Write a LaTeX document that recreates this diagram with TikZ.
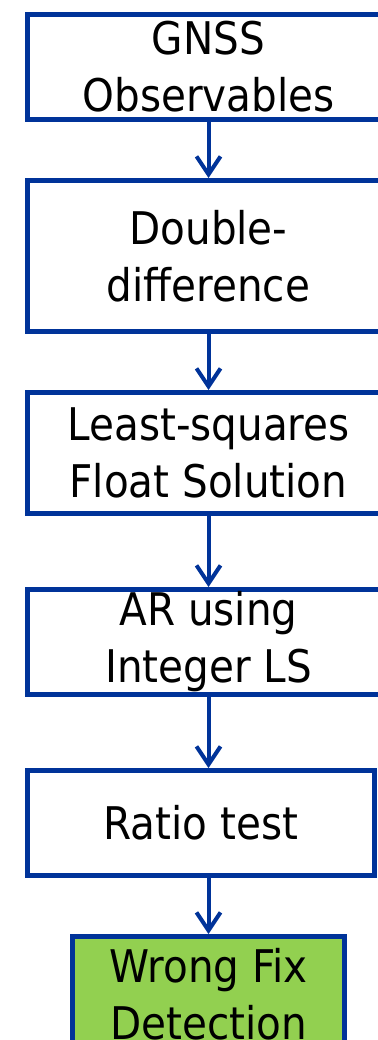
\documentclass[tikz,border=0pt]{standalone}
\usepackage{fontspec}
\setmainfont{DejaVu Sans Condensed}
\usepackage{tikz}
\usetikzlibrary{arrows.meta, positioning}
\definecolor{flowblue}{RGB}{0,51,153}
\definecolor{fixgreen}{RGB}{146,208,80}

\begin{document}
\begin{tikzpicture}[x=1pt,y=1pt,
        stepbox/.style={draw=flowblue, line width=5pt, rectangle, minimum width=362pt,
            align=center, inner sep=0pt, font=\fontsize{45}{57}\selectfont},
        flow/.style={-{Straight Barb[length=18pt,width=24pt]}, line width=4pt, flowblue}]
        \useasboundingbox (0,0) rectangle (377,-1040);

            \node[stepbox, minimum height=105pt] (gnss) at (208.5,-67) {GNSS\\Observables};
            \node[stepbox, minimum height=151pt, below=56pt of gnss] (dd) {Double-\\difference};
            \node[stepbox, minimum height=121pt, below=56pt of dd] (ls) {Least-squares\\Float Solution};
            \node[stepbox, minimum height=105pt, below=71pt of ls] (ar) {AR using\\Integer LS};
            \node[stepbox, minimum height=105pt, minimum width=347pt,
                below=71pt of ar, xshift=-7.5pt] (rt) {Ratio test};
            \node[stepbox, minimum height=115pt, minimum width=272pt, fill=fixgreen,
                below=56pt of rt, xshift=7.5pt] (wf) {Wrong Fix\\Detection};

            \draw[flow] (gnss) -- (dd);
            \draw[flow] (dd) -- (ls);
            \draw[flow] (ls) -- (ar);
            \draw[flow] (ar.south) -- (ar.south |- rt.north);
            \draw[flow] (rt.south -| wf.north) -- (wf.north);
        \end{tikzpicture}
\end{document}
